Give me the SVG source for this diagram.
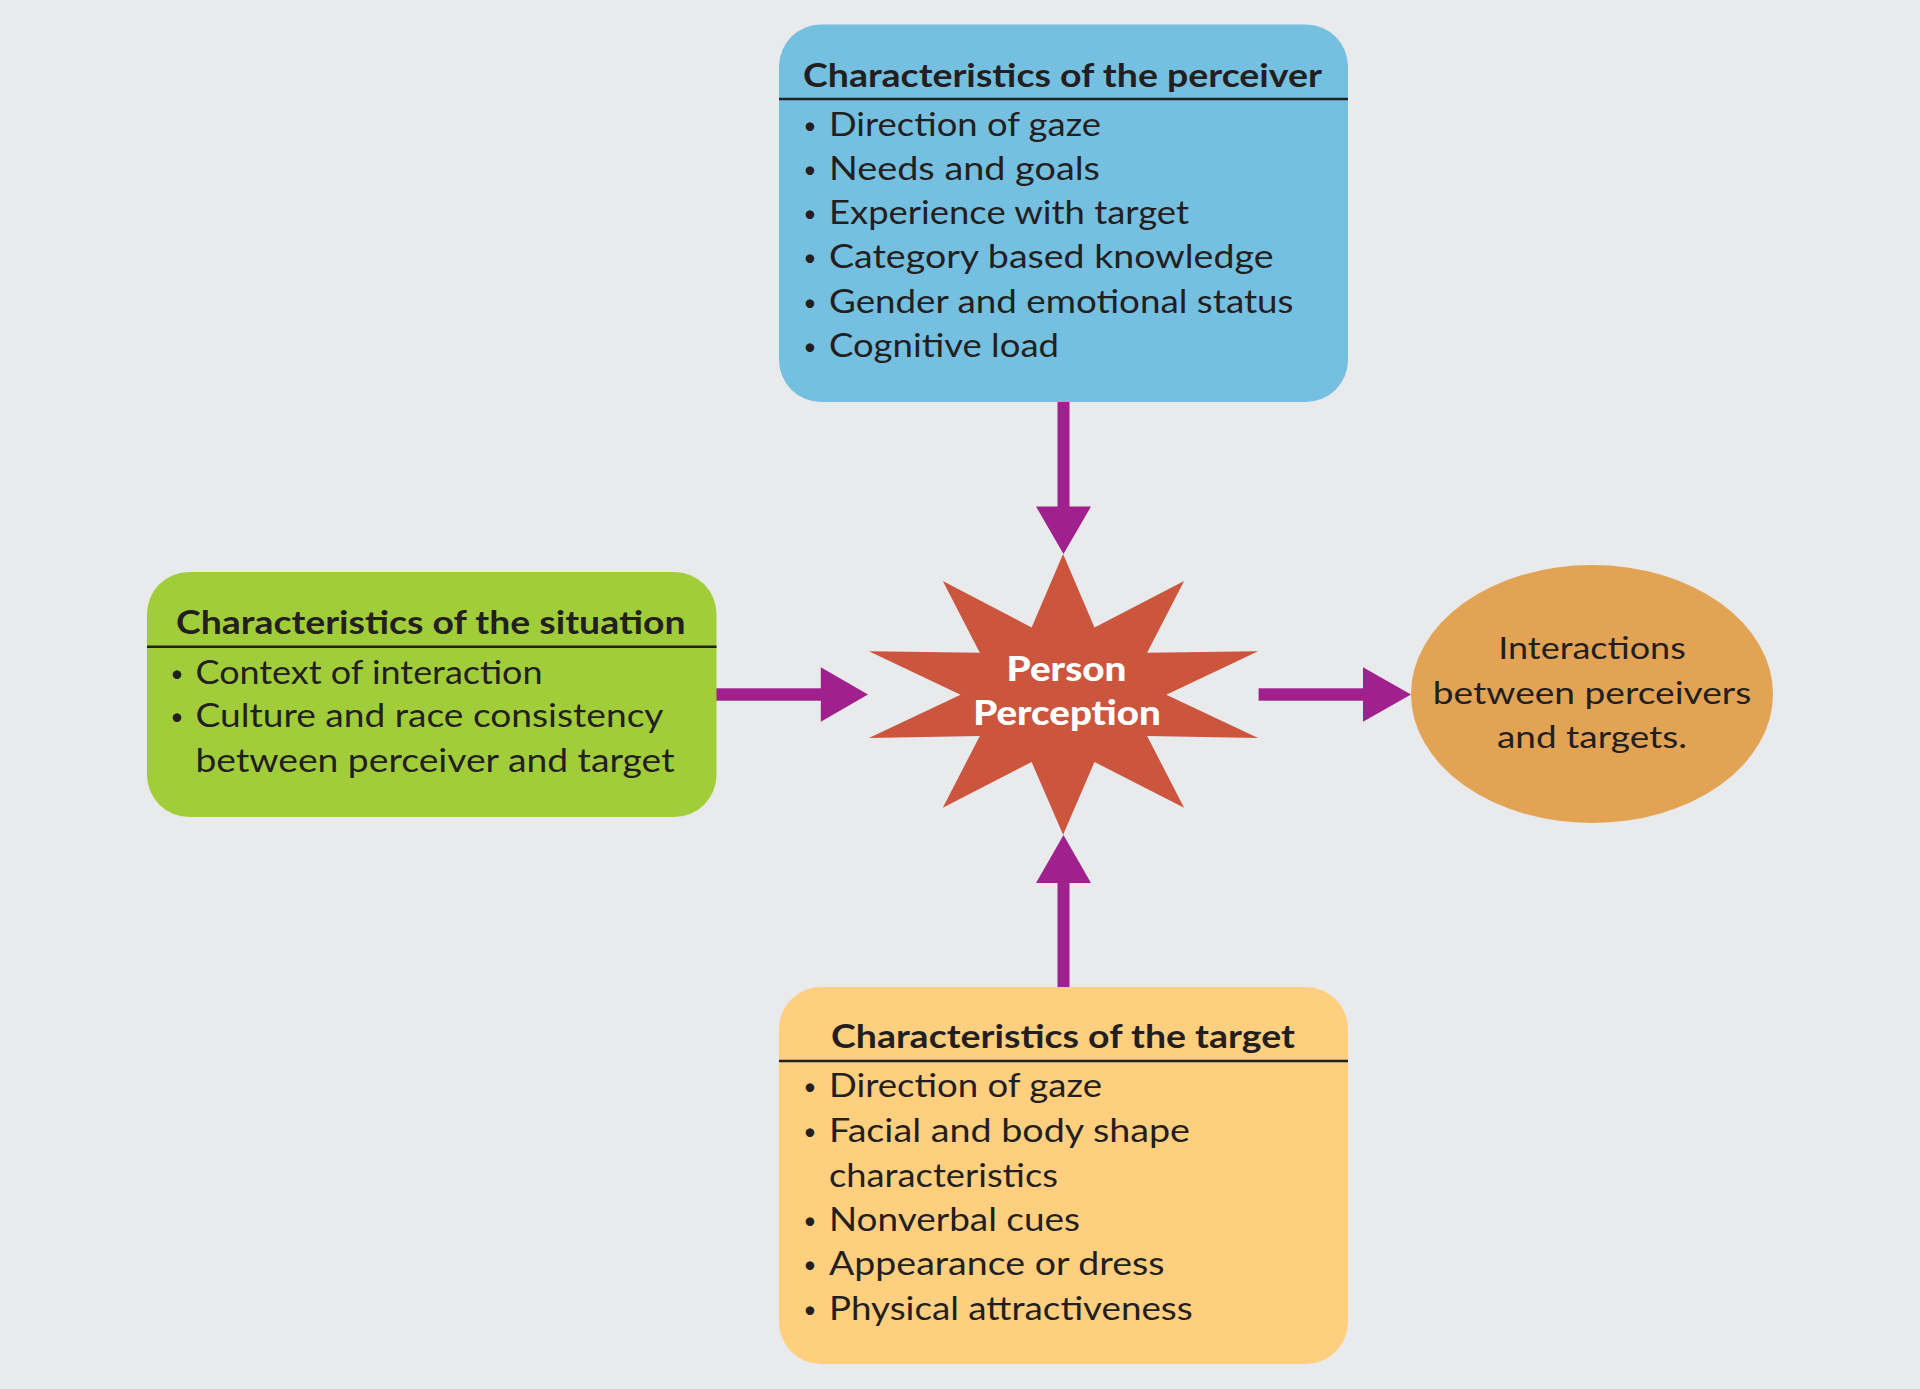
<svg xmlns="http://www.w3.org/2000/svg" width="1920" height="1389" viewBox="0 0 1920 1389">
<style>
.bg{fill:#E9EAEC}
.box{stroke:none}
.hline{stroke:#231F20;stroke-width:2.5}
.title{font-family:Lato,"Liberation Sans",sans-serif;font-weight:700;font-size:33px;fill:#231F20}
.item{font-family:Lato,"Liberation Sans",sans-serif;font-weight:400;font-size:32px;fill:#231F20}
.bul{font-family:Lato,"Liberation Sans",sans-serif;font-size:23px;fill:#231F20;text-anchor:middle}
.ell{font-family:Lato,"Liberation Sans",sans-serif;font-weight:400;font-size:31px;fill:#231F20;text-anchor:middle}
.star{font-family:Lato,"DejaVu Sans",sans-serif;font-weight:900;font-size:34px;fill:#FFFFFF;text-anchor:middle}
.conn{fill:#A0218D}
</style>
<rect class="bg" x="0" y="0" width="1920" height="1389"/>

<g id="connectors">
<rect class="conn" x="1057.5" y="400" width="12" height="108"/>
<polygon class="conn" points="1036,506.5 1091,506.5 1063.5,554"/>
<rect class="conn" x="1057.5" y="881" width="12" height="108"/>
<polygon class="conn" points="1036,883 1091,883 1063.5,835"/>
<rect class="conn" x="714" y="688.3" width="108" height="12.4"/>
<polygon class="conn" points="820.8,667.3 820.8,721.7 868,694.5"/>
<rect class="conn" x="1258.6" y="688.3" width="106" height="12.4"/>
<polygon class="conn" points="1363,667.3 1363,721.7 1411,694.5"/>
</g>

<g id="perceiver">
<rect class="box" x="779" y="24.5" width="569" height="377.5" rx="42" fill="#75BFE0"/>
<line class="hline" x1="779" y1="99" x2="1348" y2="99"/>
<text class="title" x="803" y="87" textLength="519" lengthAdjust="spacingAndGlyphs">Characteristics of the perceiver</text>
<text class="bul" x="810" y="134">•</text><text class="item" x="829" y="136" textLength="272" lengthAdjust="spacingAndGlyphs">Direction of gaze</text>
<text class="bul" x="810" y="178">•</text><text class="item" x="829" y="180" textLength="271" lengthAdjust="spacingAndGlyphs">Needs and goals</text>
<text class="bul" x="810" y="222">•</text><text class="item" x="829" y="224" textLength="360" lengthAdjust="spacingAndGlyphs">Experience with target</text>
<text class="bul" x="810" y="266">•</text><text class="item" x="829" y="268" textLength="444.5" lengthAdjust="spacingAndGlyphs">Category based knowledge</text>
<text class="bul" x="810" y="311">•</text><text class="item" x="829" y="313" textLength="464.5" lengthAdjust="spacingAndGlyphs">Gender and emotional status</text>
<text class="bul" x="810" y="355">•</text><text class="item" x="829" y="357" textLength="230" lengthAdjust="spacingAndGlyphs">Cognitive load</text>
</g>

<g id="situation">
<rect class="box" x="147" y="572" width="569.5" height="245" rx="42" fill="#A2CD3A"/>
<line class="hline" x1="147" y1="646.7" x2="716.5" y2="646.7"/>
<text class="title" x="176" y="634" textLength="509.5" lengthAdjust="spacingAndGlyphs">Characteristics of the situation</text>
<text class="bul" x="177" y="682">•</text><text class="item" x="195.5" y="684" textLength="347" lengthAdjust="spacingAndGlyphs">Context of interaction</text>
<text class="bul" x="177" y="725">•</text><text class="item" x="195.5" y="727" textLength="468" lengthAdjust="spacingAndGlyphs">Culture and race consistency</text>
<text class="item" x="195.5" y="771.5" textLength="479" lengthAdjust="spacingAndGlyphs">between perceiver and target</text>
</g>

<g id="person-perception">
<polygon fill="#CC553D" points="1063.1,554 1094.5,627.5 1184.1,580.9 1147.1,652.8 1258.1,651.3 1166.3,694.8 1258.1,737.9 1147.1,735.9 1184.1,807.8 1094.5,762 1063.1,834.7 1031.6,762 942.8,807.8 979.8,735.9 868.9,737.9 960.6,694.8 868.9,651.3 979.8,652.8 942.8,580.9 1031.6,627.5"/>
<text class="star" x="1066.5" y="681" textLength="120" lengthAdjust="spacingAndGlyphs">Person</text>
<text class="star" x="1067" y="725" textLength="187.5" lengthAdjust="spacingAndGlyphs">Perception</text>
</g>

<g id="interactions">
<ellipse cx="1592" cy="694" rx="181" ry="129" fill="#E2A355"/>
<text class="ell" x="1592" y="659" textLength="187.5" lengthAdjust="spacingAndGlyphs">Interactions</text>
<text class="ell" x="1592" y="703.5" textLength="318.5" lengthAdjust="spacingAndGlyphs">between perceivers</text>
<text class="ell" x="1592" y="748" textLength="190" lengthAdjust="spacingAndGlyphs">and targets.</text>
</g>

<g id="target">
<rect class="box" x="779" y="987" width="569" height="377" rx="42" fill="#FFCF80"/>
<line class="hline" x1="779" y1="1061" x2="1348" y2="1061"/>
<text class="title" x="831" y="1048" textLength="464" lengthAdjust="spacingAndGlyphs">Characteristics of the target</text>
<text class="bul" x="810" y="1095">•</text><text class="item" x="829" y="1097" textLength="273" lengthAdjust="spacingAndGlyphs">Direction of gaze</text>
<text class="bul" x="810" y="1140">•</text><text class="item" x="829" y="1142" textLength="361" lengthAdjust="spacingAndGlyphs">Facial and body shape</text>
<text class="item" x="829" y="1186.5" textLength="229" lengthAdjust="spacingAndGlyphs">characteristics</text>
<text class="bul" x="810" y="1229">•</text><text class="item" x="829" y="1231" textLength="251" lengthAdjust="spacingAndGlyphs">Nonverbal cues</text>
<text class="bul" x="810" y="1273">•</text><text class="item" x="829" y="1275" textLength="335.5" lengthAdjust="spacingAndGlyphs">Appearance or dress</text>
<text class="bul" x="810" y="1317.5">•</text><text class="item" x="829" y="1319.5" textLength="363.7" lengthAdjust="spacingAndGlyphs">Physical attractiveness</text>
</g>
</svg>
